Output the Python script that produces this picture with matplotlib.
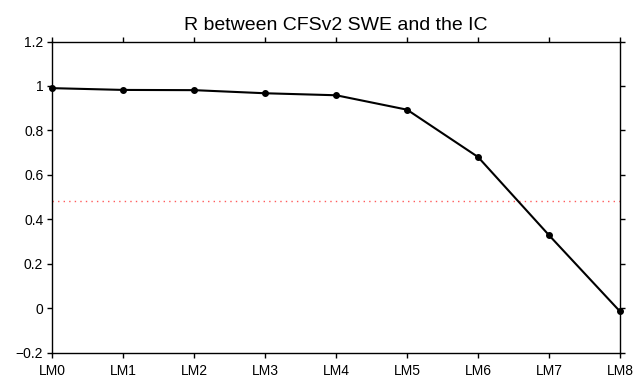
import numpy as np
import matplotlib
matplotlib.use("Agg")
import matplotlib.pyplot as plt

plt.rcParams["font.family"] = ["Liberation Sans", "DejaVu Sans"]

# Correlation of CFSv2 SWE with the initial condition, by lead month
lead_months = ["LM0", "LM1", "LM2", "LM3", "LM4", "LM5", "LM6", "LM7", "LM8"]
r_values = [0.990, 0.982, 0.981, 0.967, 0.958, 0.893, 0.680, 0.328, -0.015]
significance = 0.482

y_ticks = [-0.2, 0, 0.2, 0.4, 0.6, 0.8, 1, 1.2]
y_labels = ["\u22120.2", "0", "0.2", "0.4", "0.6", "0.8", "1", "1.2"]

fig = plt.figure(figsize=(6.44, 3.79), dpi=100)
ax = fig.add_axes([0.0812, 0.0699, 0.8815, 0.8206])

x = np.arange(len(lead_months))
ax.plot(x, r_values, color="black", linewidth=1.5, marker="o", markersize=4,
        zorder=3, clip_on=False)
ax.axhline(significance, color="#ff5a5a", linewidth=1.0,
           linestyle=(0, (1, 3)), zorder=2)

ax.set_xlim(0, len(lead_months) - 1)
ax.set_ylim(-0.2, 1.2)
ax.set_xticks(x)
ax.set_xticklabels(lead_months)
ax.set_yticks(y_ticks)
ax.set_yticklabels(y_labels)

ax.tick_params(direction="out", length=3.5, width=1, labelsize=10,
               top=True, right=True, pad=3)
ax.tick_params(axis="x", pad=5)
for spine in ax.spines.values():
    spine.set_linewidth(1.0)

ax.set_title("R between CFSv2 SWE and the IC", fontsize=14, pad=8)

fig.savefig("out.png", dpi=100)
